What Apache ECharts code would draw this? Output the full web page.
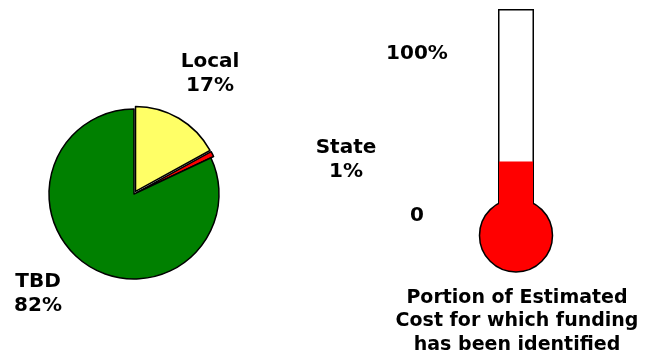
<!DOCTYPE html>
<html>
<head>
<meta charset="utf-8">
<script src="https://cdn.jsdelivr.net/npm/echarts@6/dist/echarts.min.js"></script>
<style>
  html, body { margin: 0; padding: 0; background: #fff; }
  #main { width: 652px; height: 355px; }
</style>
</head>
<body>
<div id="main"></div>
<script>
// funding sources (pie)
var sourceNames = ['Local', 'State', 'TBD'];
var sourceValues = [17, 1, 82];
var sourceColors = ['#FFFF66', '#FF0000', '#008000'];
var sourceExploded = [true, true, false];
// where each label sits
var labelSpots = [[210, 74], [346, 160], [38, 294]];

// thermometer
var gaugeCategory = ['Funding'];
var identifiedValue = [33.5];   // fill level
var tubeTop = [127.6];          // tube reaches above 100%
var bulbCenter = [-12.2];
var gaugeTicks = [0, 100];
var caption = 'Portion of Estimated\nCost for which funding\nhas been identified';

var FONT = '"DejaVu Sans", Verdana, sans-serif';

var chart = echarts.init(document.getElementById('main'));

var total = 0;
for (var k = 0; k < sourceValues.length; k++) total += sourceValues[k];

var pieData = [];
var pieLabels = [];
for (var i = 0; i < sourceNames.length; i++) {
  pieData.push({
    name: sourceNames[i],
    value: sourceValues[i],
    selected: sourceExploded[i],
    itemStyle: { color: sourceColors[i] }
  });
  // labels sit away from the pie, no leader lines
  pieLabels.push({
    type: 'text',
    x: labelSpots[i][0],
    y: labelSpots[i][1],
    silent: true,
    style: {
      text: sourceNames[i] + '\n' + Math.round(sourceValues[i] / total * 100) + '%',
      align: 'center',
      verticalAlign: 'middle',
      font: 'bold 20px ' + FONT,
      lineHeight: 23.5,
      fill: '#000'
    }
  });
}

var option = {
  animation: false,
  title: {
    text: caption,
    left: 512,
    top: 281,
    textAlign: 'center',
    textStyle: {
      fontFamily: FONT, fontWeight: 'bold', fontSize: 19,
      lineHeight: 23.5, color: '#000'
    }
  },
  graphic: pieLabels,
  grid: { left: 480, right: 100, top: 9, bottom: 81 },
  xAxis: [
    { type: 'category', data: gaugeCategory, show: false },
    { type: 'category', data: gaugeCategory, show: false }
  ],
  yAxis: {
    type: 'value',
    min: -36,
    max: 127.6,
    splitLine: { show: false },
    axisLine: { show: false },
    axisTick: { show: false },
    axisLabel: {
      customValues: gaugeTicks,
      align: 'center',
      margin: 63,
      fontFamily: FONT, fontWeight: 'bold', fontSize: 20, color: '#000',
      formatter: function (v) { return v === 0 ? '0' : v + '%'; }
    }
  },
  series: [
    {
      type: 'pie',
      center: [134, 194],
      radius: 85,
      startAngle: 90,
      clockwise: true,
      selectedMode: 'multiple',
      selectedOffset: 3,
      itemStyle: { borderColor: '#000', borderWidth: 1.5 },
      select: { itemStyle: { borderColor: '#000', borderWidth: 1.5 } },
      emphasis: { disabled: true },
      label: { show: false },
      labelLine: { show: false },
      data: pieData
    },
    {
      // glass tube
      type: 'bar',
      xAxisIndex: 0,
      data: tubeTop,
      barWidth: 36,
      z: 2,
      silent: true,
      itemStyle: { color: '#fff', borderColor: '#000', borderWidth: 1.5 }
    },
    {
      // bulb
      type: 'scatter',
      xAxisIndex: 0,
      data: bulbCenter,
      symbol: 'circle',
      symbolSize: 73,
      z: 3,
      silent: true,
      itemStyle: { color: '#FF0000', borderColor: '#000', borderWidth: 1.5, opacity: 1 }
    },
    {
      // identified funding
      type: 'bar',
      xAxisIndex: 1,
      data: identifiedValue,
      barWidth: 34,
      z: 4,
      silent: true,
      itemStyle: { color: '#FF0000' }
    }
  ]
};

chart.setOption(option);
</script>
</body>
</html>
